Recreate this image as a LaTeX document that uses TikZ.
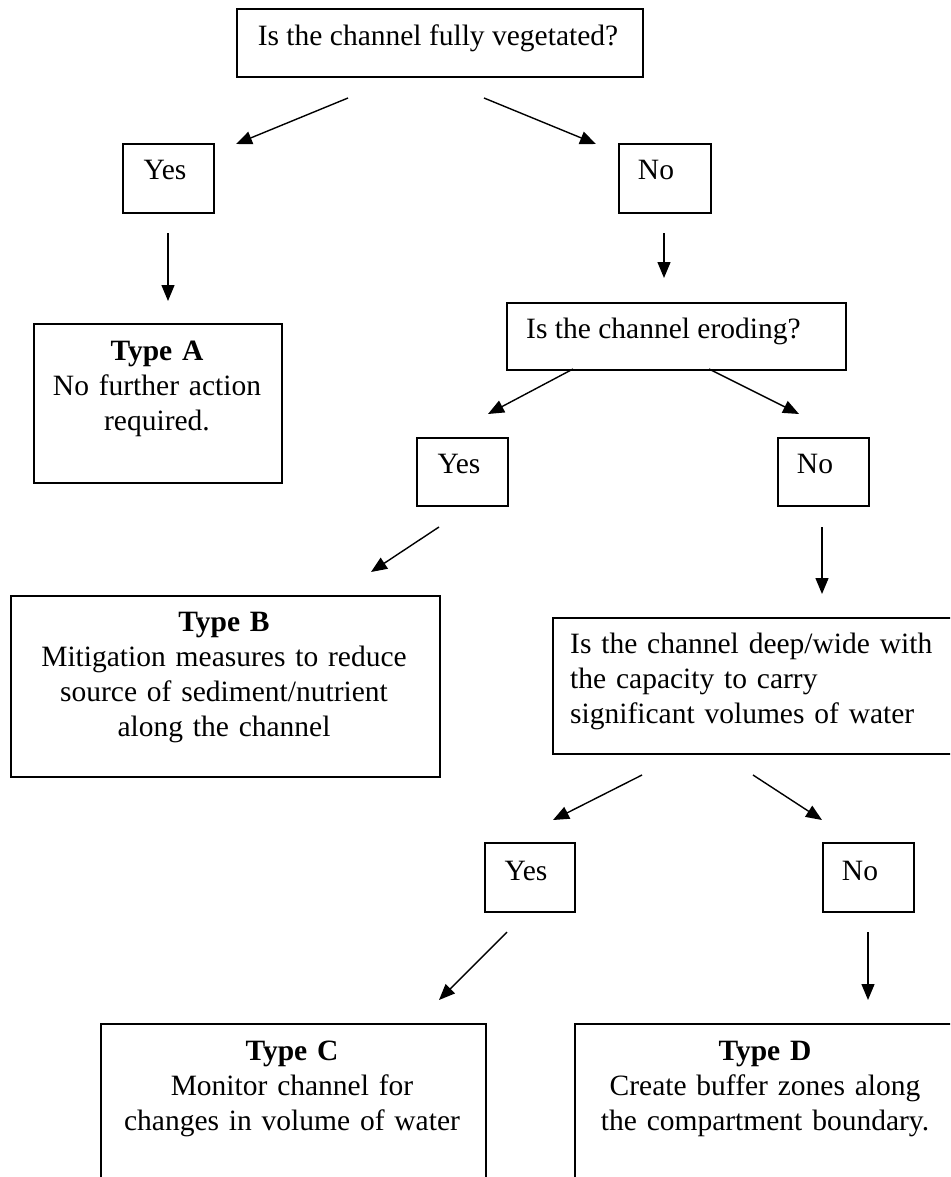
\documentclass[tikz,border=0pt]{standalone}
\usepackage{fontspec}
\setmainfont{Liberation Serif}
\usetikzlibrary{arrows.meta}
\tikzset{
  box/.style={draw, line width=1.8pt, rectangle, inner sep=0pt, anchor=north west},
  txt/.style={font=\fontsize{29.5}{35}\selectfont, inner sep=0pt, anchor=base},
  ctxt/.style={txt, text width=#1, align=center},
  ltxt/.style={txt, anchor=base west},
  arr/.style={line width=1.4pt, -{Triangle[length=16pt,width=13pt]}}
}
\begin{document}
\begin{tikzpicture}[x=1pt,y=-1pt]
\useasboundingbox (0,0) rectangle (950,1177);
\clip (0,0) rectangle (950,1177);
% boxes
\node[box, minimum width=406, minimum height=68] (q1) at (236,8) {};
\node[box, minimum width=91, minimum height=69] (y1) at (122,143) {};
\node[box, minimum width=92, minimum height=69] (n1) at (618,143) {};
\node[box, minimum width=248, minimum height=159] (ta) at (33,323) {};
\node[box, minimum width=339, minimum height=67] (q2) at (506,302) {};
\node[box, minimum width=91, minimum height=68] (y2) at (416,437) {};
\node[box, minimum width=91, minimum height=68] (n2) at (777,437) {};
\node[box, minimum width=429, minimum height=181] (tb) at (10,595) {};
\node[box, minimum width=410, minimum height=136] (q3) at (552,617) {};
\node[box, minimum width=90, minimum height=69] (y3) at (484,842) {};
\node[box, minimum width=91, minimum height=69] (n3) at (822,842) {};
\node[box, minimum width=385, minimum height=200] (tc) at (100,1023) {};
\node[box, minimum width=390, minimum height=200] (td) at (574,1023) {};
% texts
\node[txt] (q1t) at (438,46) {Is the channel fully vegetated?};
\node[txt] (y1t) at (165,180) {Yes};
\node[txt] (n1t) at (656,180) {No};
\node[ctxt=248pt] (tat) at (157,360) {\textbf{Type A}\\No further action\\required.};
\node[ltxt] (q2t) at (526,338) {Is the channel eroding?};
\node[txt] (y2t) at (459,473) {Yes};
\node[txt] (n2t) at (815,473) {No};
\node[ctxt=429pt] (tbt) at (224,631) {\textbf{Type B}\\Mitigation measures to reduce\\source of sediment/nutrient\\along the channel};
\node[ltxt, text width=400pt, align=left] (q3t) at (570,653) {Is the channel deep/wide with\\the capacity to carry\\significant volumes of water};
\node[txt] (y3t) at (526,880) {Yes};
\node[txt] (n3t) at (860,880) {No};
\node[ctxt=385pt] (tct) at (292,1060) {\textbf{Type C}\\Monitor channel for\\changes in volume of water};
\node[ctxt=390pt] (tdt) at (765,1060) {\textbf{Type D}\\Create buffer zones along\\the compartment boundary.};
% arrow end points
\coordinate (a1s) at (348,98);  \coordinate (a1e) at (236,144);
\coordinate (a2s) at (484,98);  \coordinate (a2e) at (596,144);
\coordinate (a3s) at (168,233); \coordinate (a3e) at (168,301);
\coordinate (a4s) at (664,233); \coordinate (a4e) at (664,278);
\coordinate (a5s) at (573,369); \coordinate (a5e) at (488,414);
\coordinate (a6s) at (709,369); \coordinate (a6e) at (799,414);
\coordinate (a7s) at (439,527); \coordinate (a7e) at (371,572);
\coordinate (a8s) at (822,527); \coordinate (a8e) at (822,594);
\coordinate (a9s) at (642,775); \coordinate (a9e) at (553,820);
\coordinate (a10s) at (753,775); \coordinate (a10e) at (822,820);
\coordinate (a11s) at (507,932); \coordinate (a11e) at (439,1000);
\coordinate (a12s) at (868,932); \coordinate (a12e) at (868,1000);
\draw[arr] (a1s) -- (a1e);
\draw[arr] (a2s) -- (a2e);
\draw[arr] (a3s) -- (a3e);
\draw[arr] (a4s) -- (a4e);
\draw[arr] (a5s) -- (a5e);
\draw[arr] (a6s) -- (a6e);
\draw[arr] (a7s) -- (a7e);
\draw[arr] (a8s) -- (a8e);
\draw[arr] (a9s) -- (a9e);
\draw[arr] (a10s) -- (a10e);
\draw[arr] (a11s) -- (a11e);
\draw[arr] (a12s) -- (a12e);
\end{tikzpicture}
\end{document}
